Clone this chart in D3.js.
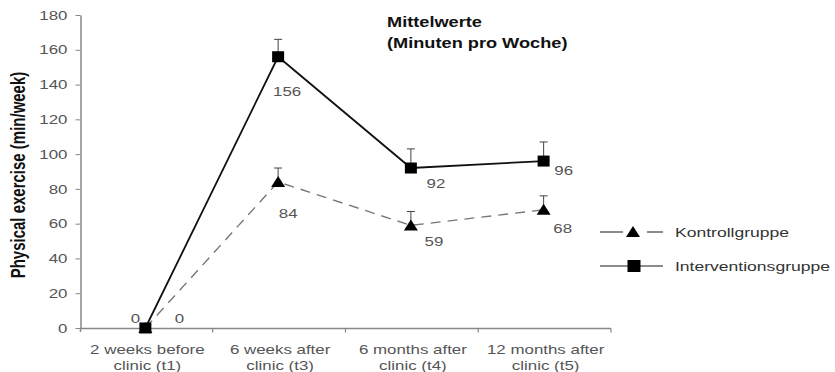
<!DOCTYPE html>
<html>
<head>
<meta charset="utf-8">
<script src="https://cdn.jsdelivr.net/npm/d3@7"></script>
<style>
  html, body { margin: 0; padding: 0; background: #fff; }
  svg { display: block; }
  text { font-family: "Liberation Sans", Arial, sans-serif; }
</style>
</head>
<body>
<svg id="chart" width="835" height="372"></svg>
<script>
// Time points of the survey
const categories = [
  ["2 weeks before", "clinic (t1)"],
  ["6 weeks after", "clinic (t3)"],
  ["6 months after", "clinic (t4)"],
  ["12 months after", "clinic (t5)"]
];
// Mean physical exercise (minutes per week)
const kontrollValues = [0, 84, 59, 68];
const interventionValues = [0, 156, 92, 96];
// Upper error bar length
const kontrollError = [0, 8, 8, 8];
const interventionError = [0, 10, 11, 11];
const yTicks = [0, 20, 40, 60, 80, 100, 120, 140, 160, 180];
const seriesNames = ["Kontrollgruppe", "Interventionsgruppe"];

// Label offsets (px) from each marker centre
const kontrollLabelOffset = [[34, -10], [10, 32], [23, 16], [19, 19]];
const interventionLabelOffset = [[-10, -10], [9, 35], [25, 15], [20, 9]];

const SX = 1.3; // horizontal text stretch
const svg = d3.select("#chart");

const x = d3.scaleBand().domain(d3.range(categories.length)).range([80, 611]).paddingInner(0).paddingOuter(0);
const y = d3.scaleLinear().domain([0, 180]).range([328, 15]);
const cx = i => x(i) + x.bandwidth() / 2 - 1;

function label(g, px, py, str, o) {
  return g.append("text")
    .attr("transform", `translate(${px},${py}) scale(${SX},1)`)
    .attr("text-anchor", o.anchor || "start")
    .attr("dy", o.dy || "0.35em")
    .attr("font-size", o.size || 13)
    .attr("font-weight", o.weight || "normal")
    .attr("fill", o.fill || "#555")
    .text(str);
}

// Y axis
const yAxis = svg.append("g")
  .attr("transform", "translate(80.5,0)")
  .call(d3.axisLeft(y).tickValues(yTicks).tickSize(5).tickSizeOuter(0).tickPadding(5));
yAxis.select(".domain").attr("stroke", "#888").attr("stroke-width", 1.5);
yAxis.selectAll(".tick line").attr("stroke", "#888");
yAxis.selectAll(".tick text")
  .attr("transform", `scale(${SX},1)`)
  .attr("font-size", 13)
  .attr("font-family", "Liberation Sans, Arial, sans-serif")
  .attr("fill", "#555");
svg.append("line").attr("x1", 80.5).attr("x2", 80.5).attr("y1", 328).attr("y2", 332)
  .attr("stroke", "#888").attr("stroke-width", 1.5);

// X axis
const xAxisG = svg.append("g").attr("transform", "translate(0,328.5)");
xAxisG.append("line").attr("x1", 80).attr("x2", 611).attr("stroke", "#888").attr("stroke-width", 1.5);
xAxisG.selectAll(".xt").data(d3.range(categories.length)).join("line")
  .attr("class", "xt")
  .attr("x1", i => x(i) + x.bandwidth()).attr("x2", i => x(i) + x.bandwidth())
  .attr("y1", 0).attr("y2", 4)
  .attr("stroke", "#888").attr("stroke-width", 1.2);
categories.forEach((lines, i) => {
  lines.forEach((ln, k) => {
    label(svg, x(i) + x.bandwidth() / 2 + 1, 349 + k * 16, ln, { anchor: "middle", size: 13, fill: "#555" });
  });
});

// Y axis title
svg.append("text")
  .attr("transform", `translate(25,175) scale(${SX},1) rotate(-90)`)
  .attr("text-anchor", "middle")
  .attr("font-size", 15)
  .attr("font-weight", "bold")
  .attr("fill", "#111")
  .text("Physical exercise (min/week)");

// Chart title
label(svg, 387, 22, "Mittelwerte", { size: 14, weight: "bold", fill: "#111" });
label(svg, 387, 43, "(Minuten pro Woche)", { size: 14, weight: "bold", fill: "#111" });

const tri = "M0,-6L7,5L-7,5Z";

function drawSeries(values, errors, offsets, dashed, marker) {
  const g = svg.append("g");
  const line = d3.line().x((d, i) => cx(i)).y(d => y(d));
  // error bars (upper only)
  values.forEach((v, i) => {
    if (errors[i] <= 0) return;
    g.append("line").attr("x1", cx(i)).attr("x2", cx(i)).attr("y1", y(v)).attr("y2", y(v + errors[i]))
      .attr("stroke", "#444").attr("stroke-width", 1);
    g.append("line").attr("x1", cx(i) - 4).attr("x2", cx(i) + 4).attr("y1", y(v + errors[i])).attr("y2", y(v + errors[i]))
      .attr("stroke", "#444").attr("stroke-width", 1);
  });
  g.append("path").datum(values)
    .attr("d", line)
    .attr("fill", "none")
    .attr("stroke", dashed ? "#777" : "#111")
    .attr("stroke-width", dashed ? 1.4 : 1.8)
    .attr("stroke-dasharray", dashed ? "10,7" : null);
  values.forEach((v, i) => {
    if (marker === "tri") {
      g.append("path").attr("d", tri).attr("transform", `translate(${cx(i)},${y(v)})`).attr("fill", "#000");
    } else {
      g.append("rect").attr("x", cx(i) - 6).attr("y", y(v) - 5.5).attr("width", 12).attr("height", 11).attr("fill", "#000");
    }
    label(g, cx(i) + offsets[i][0], y(v) + offsets[i][1], String(v), { anchor: "middle", size: 13, fill: "#555" });
  });
}

drawSeries(kontrollValues, kontrollError, kontrollLabelOffset, true, "tri");
drawSeries(interventionValues, interventionError, interventionLabelOffset, false, "sq");

// Legend
const lg = svg.append("g");
const legendRows = [
  { name: seriesNames[0], y: 232, marker: "tri", dash: "23,24,16" },
  { name: seriesNames[1], y: 266, marker: "sq", dash: null }
];
legendRows.forEach(r => {
  lg.append("line").attr("x1", 600).attr("x2", 663).attr("y1", r.y).attr("y2", r.y)
    .attr("stroke", "#666").attr("stroke-width", 1.5).attr("stroke-dasharray", r.dash);
  if (r.marker === "tri") {
    lg.append("path").attr("d", tri).attr("transform", `translate(633,${r.y})`).attr("fill", "#000");
  } else {
    lg.append("rect").attr("x", 627.5).attr("y", r.y - 6).attr("width", 13).attr("height", 12).attr("fill", "#000");
  }
  label(lg, 675, r.y, r.name, { size: 13.5, fill: "#333" });
});
</script>
</body>
</html>
